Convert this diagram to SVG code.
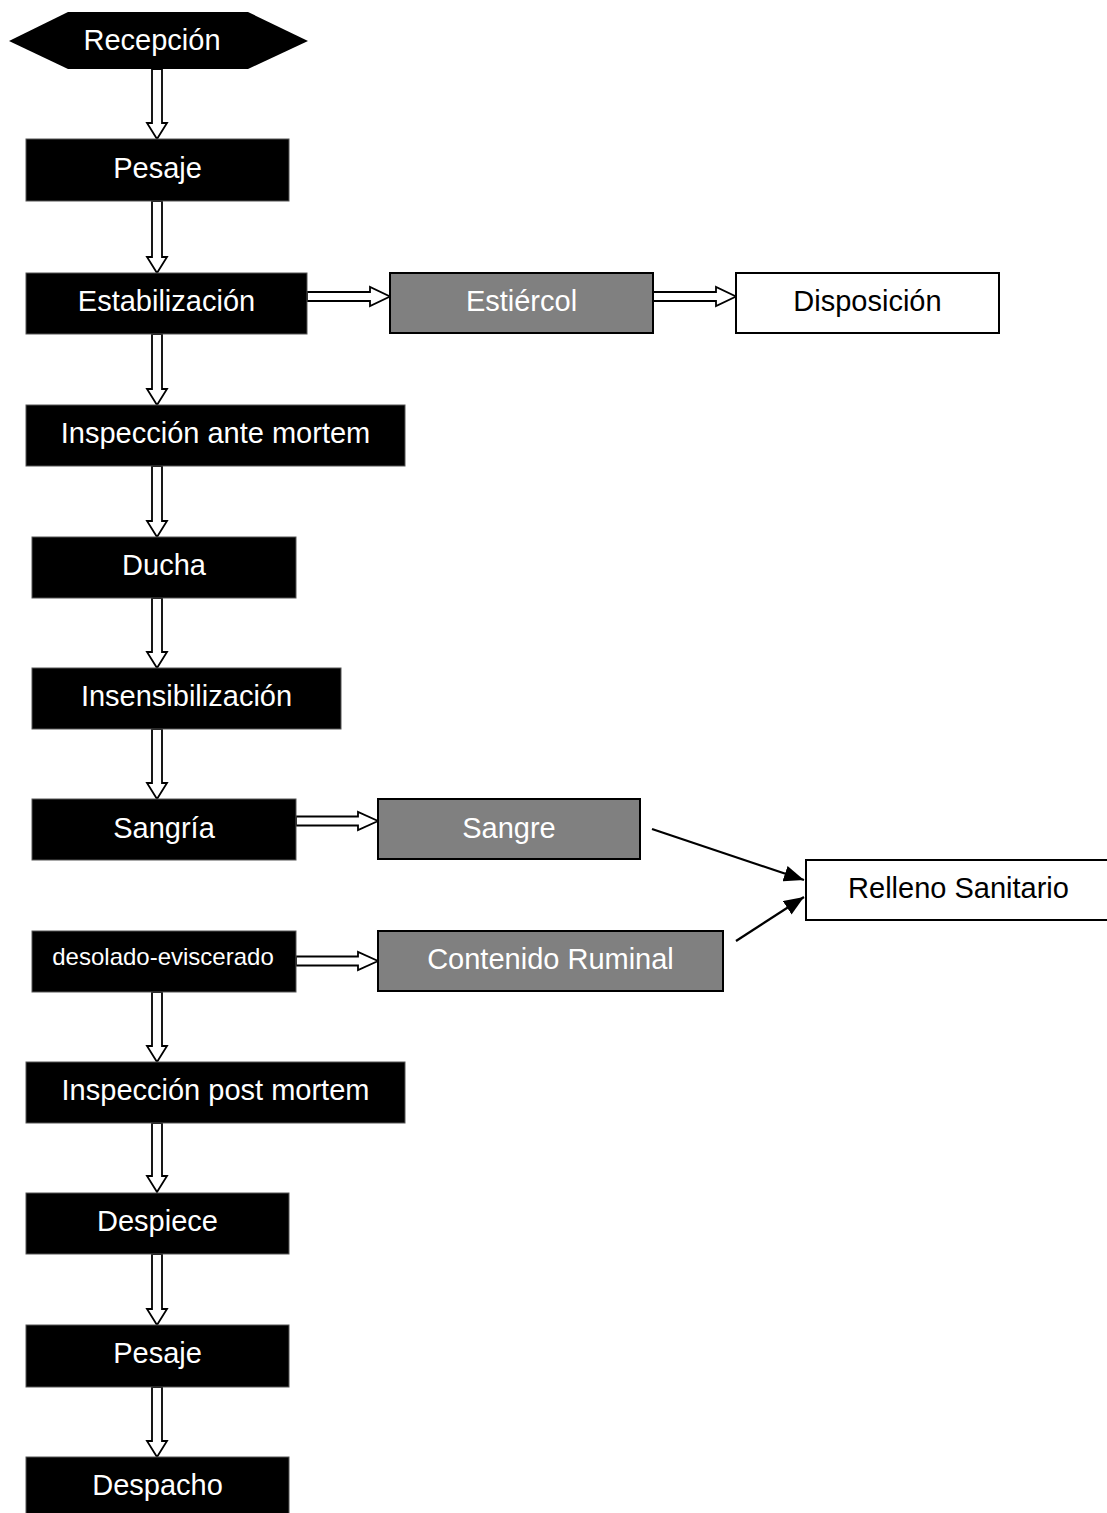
<svg xmlns="http://www.w3.org/2000/svg" width="1107" height="1513" viewBox="0 0 1107 1513">
<style>
.blk{fill:#000;stroke:#555;stroke-width:1}
.gry{fill:#808080;stroke:#000;stroke-width:2}
.wht{fill:#fff;stroke:#000;stroke-width:2}
text{font-family:"Liberation Sans",Arial,sans-serif;font-size:29px;text-anchor:middle}
.tw{fill:#fff}
.tb{fill:#000}
.small{font-size:24px}
.blockarrow{fill:#fff;stroke:#000;stroke-width:1.8;stroke-linejoin:miter}
.line{stroke:#000;stroke-width:2.2;fill:none}
</style>
<defs>
<marker id="ah2" viewBox="0 0 20 16" refX="20" refY="8" markerWidth="20" markerHeight="16" markerUnits="userSpaceOnUse" orient="auto">
<path d="M0,0 L20,8 L0,16 z" fill="#000"/>
</marker>
</defs>
<g id="connectors">
<path class="blockarrow" d="M152,69 V123 H147 L157,139 L167,123 H162 V69 Z"/>
<path class="blockarrow" d="M152,201 V257 H147 L157,273 L167,257 H162 V201 Z"/>
<path class="blockarrow" d="M152,334 V389 H147 L157,405 L167,389 H162 V334 Z"/>
<path class="blockarrow" d="M152,466 V521 H147 L157,537 L167,521 H162 V466 Z"/>
<path class="blockarrow" d="M152,598 V652 H147 L157,668 L167,652 H162 V598 Z"/>
<path class="blockarrow" d="M152,729 V783 H147 L157,799 L167,783 H162 V729 Z"/>
<path class="blockarrow" d="M152,992 V1046 H147 L157,1062 L167,1046 H162 V992 Z"/>
<path class="blockarrow" d="M152,1123 V1176 H147 L157,1192 L167,1176 H162 V1123 Z"/>
<path class="blockarrow" d="M152,1254 V1309 H147 L157,1325 L167,1309 H162 V1254 Z"/>
<path class="blockarrow" d="M152,1387 V1441 H147 L157,1457 L167,1441 H162 V1387 Z"/>
<path class="blockarrow" d="M307,292 H370 V287 L390,296.5 L370,306 V301 H307 Z"/>
<path class="blockarrow" d="M653,292 H716 V287 L736,296.5 L716,306 V301 H653 Z"/>
<path class="blockarrow" d="M296,816.5 H358 V812 L378,821 L358,830 V825.5 H296 Z"/>
<path class="blockarrow" d="M296,956.5 H358 V952 L378,961 L358,970 V965.5 H296 Z"/>
<line class="line" x1="652" y1="829" x2="804" y2="880" marker-end="url(#ah2)"/>
<line class="line" x1="736" y1="941" x2="804" y2="897" marker-end="url(#ah2)"/>
</g>
<g id="n-recepcion">
<polygon points="9,41 68,12 248,12 308,41 248,69 68,69" fill="#000"/>
<text class="tw" x="152" y="50">Recepción</text>
</g>
<g id="n-pesaje1">
<rect class="blk" x="26" y="139" width="263" height="62"/>
<text class="tw" x="157.5" y="178">Pesaje</text>
</g>
<g id="n-estabilizacion">
<rect class="blk" x="26" y="273" width="281" height="61"/>
<text class="tw" x="166.5" y="311">Estabilización</text>
</g>
<g id="n-estiercol">
<rect class="gry" x="390" y="273" width="263" height="60"/>
<text class="tw" x="521.5" y="311">Estiércol</text>
</g>
<g id="n-disposicion">
<rect class="wht" x="736" y="273" width="263" height="60"/>
<text class="tb" x="867.5" y="311">Disposición</text>
</g>
<g id="n-inspeccion-ante">
<rect class="blk" x="26" y="405" width="379" height="61"/>
<text class="tw" x="215.5" y="443">Inspección ante mortem</text>
</g>
<g id="n-ducha">
<rect class="blk" x="32" y="537" width="264" height="61"/>
<text class="tw" x="164" y="575">Ducha</text>
</g>
<g id="n-insensibilizacion">
<rect class="blk" x="32" y="668" width="309" height="61"/>
<text class="tw" x="186.5" y="706">Insensibilización</text>
</g>
<g id="n-sangria">
<rect class="blk" x="32" y="799" width="264" height="61"/>
<text class="tw" x="164" y="838">Sangría</text>
</g>
<g id="n-sangre">
<rect class="gry" x="378" y="799" width="262" height="60"/>
<text class="tw" x="509" y="838">Sangre</text>
</g>
<g id="n-relleno">
<rect class="wht" x="806" y="860" width="305" height="60"/>
<text class="tb" x="958.5" y="898">Relleno Sanitario</text>
</g>
<g id="n-desolado">
<rect class="blk" x="32" y="931" width="264" height="61"/>
<text class="tw small" x="163" y="965">desolado-eviscerado</text>
</g>
<g id="n-contenido">
<rect class="gry" x="378" y="931" width="345" height="60"/>
<text class="tw" x="550.5" y="969">Contenido Ruminal</text>
</g>
<g id="n-inspeccion-post">
<rect class="blk" x="26" y="1062" width="379" height="61"/>
<text class="tw" x="215.5" y="1100">Inspección post mortem</text>
</g>
<g id="n-despiece">
<rect class="blk" x="26" y="1193" width="263" height="61"/>
<text class="tw" x="157.5" y="1231">Despiece</text>
</g>
<g id="n-pesaje2">
<rect class="blk" x="26" y="1325" width="263" height="62"/>
<text class="tw" x="157.5" y="1363">Pesaje</text>
</g>
<g id="n-despacho">
<rect class="blk" x="26" y="1457" width="263" height="60"/>
<text class="tw" x="157.5" y="1495">Despacho</text>
</g>
</svg>
